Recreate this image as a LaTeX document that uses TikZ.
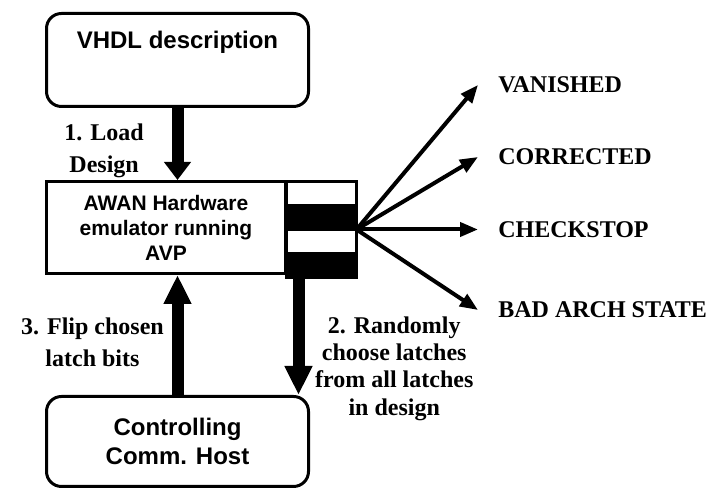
\documentclass[tikz,border=0pt]{standalone}
\usepackage{fontspec}
\setmainfont{Liberation Serif}
\setsansfont{Liberation Sans}
\usetikzlibrary{arrows.meta,positioning}

\begin{document}
\begin{tikzpicture}[x=0.5pt,y=-0.5pt,
        box/.style={draw, line width=1.5pt, inner sep=0pt, align=center},
        hostbox/.style={box, rounded corners=7.5pt, minimum width=131pt},
        boxtext/.style={font=\sffamily\bfseries\fontsize{12}{14.5}\selectfont, align=center},
        latchbit/.style={draw, line width=1.5pt, minimum width=35pt, minimum height=12pt, inner sep=0pt, outer sep=0pt},
        steplabel/.style={font=\bfseries\fontsize{12}{16}\selectfont, align=center},
        outcome/.style={anchor=west, inner xsep=10pt, font=\bfseries\fontsize{12}{14}\selectfont},
        bigarrow/.style={line width=6pt, -{Triangle[length=#1,width=13pt]}},
        bigarrow/.default=14.5pt,
        fanarrow/.style={line width=2pt, -{Triangle[length=9pt,width=7pt]}}]
    \useasboundingbox (0,0) rectangle (725,490);

    \node (vhdl) [hostbox, minimum height=46.5pt] at (177.5,60) {};
    \node (vhdltext) [boxtext, below=6pt of vhdl.north] {VHDL description};
    \node (awan) [box, minimum width=119.5pt, minimum height=46pt, font=\sffamily\bfseries\fontsize{10.5}{12.5}\selectfont] at (166,227.5) {AWAN Hardware\\emulator running\\AVP};
    \node (host) [hostbox, boxtext, minimum height=45pt] at (177.5,441.5) {Controlling\\Comm. Host};

    \node (bit1) [latchbit] at (321.5,193.5) {};
    \node (bit2) [latchbit, fill=black, below=0pt of bit1] {};
    \node (bit3) [latchbit, below=0pt of bit2] {};
    \node (bit4) [latchbit, fill=black, below=0pt of bit3] {};
    \coordinate (fan) at (bit2.south east);
    \coordinate (drop) at ([xshift=6pt]bit4.south west);

    \node (vanished) [outcome] at (478,85) {VANISHED};
    \node (corrected) [outcome] at (478,157) {CORRECTED};
    \node (checkstop) [outcome] at (478,229.5) {CHECKSTOP};
    \node (badarch) [outcome] at (478,310) {BAD ARCH STATE};

    \draw[bigarrow=9pt] (vhdl.south) -- node[steplabel, pos=0.6, left=10.5pt] (loadlbl) {1. Load\\Design} (vhdl.south |- awan.north);
    \draw[bigarrow] (drop) -- node[steplabel, pos=0.775, right=2pt, font=\bfseries\fontsize{12}{13.7}\selectfont] (randlbl) {2. Randomly\\choose latches\\from all latches\\in design} (drop |- host.north);
    \draw[bigarrow] (host.north) -- node[steplabel, pos=0.44, left=0.5pt] (fliplbl) {3. Flip chosen\\latch bits} (host.north |- awan.south);

    \draw[fanarrow] (fan) -- (vanished.west);
    \draw[fanarrow] (fan) -- (corrected.west);
    \draw[fanarrow] (fan) -- (checkstop.west);
    \draw[fanarrow] (fan) -- (badarch.west);
\end{tikzpicture}
\end{document}
